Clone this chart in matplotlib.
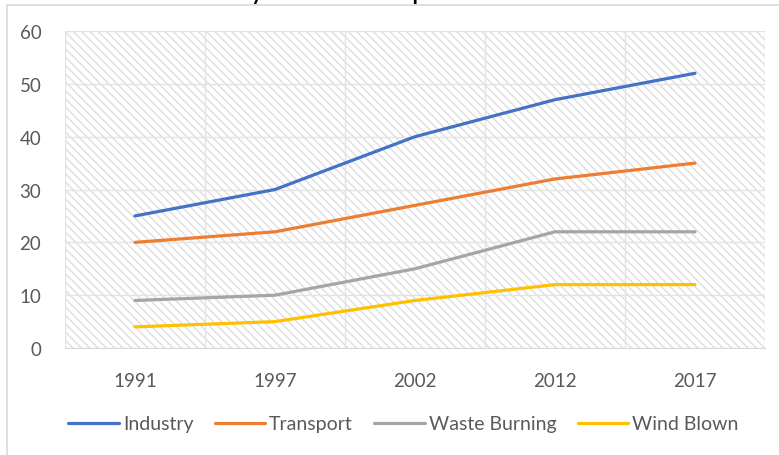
import matplotlib
matplotlib.use('Agg')
import matplotlib.pyplot as plt
from matplotlib.patches import Rectangle
from matplotlib.lines import Line2D

# chart data
years = ['1991', '1997', '2002', '2012', '2017']
industry = [25, 30, 40, 47, 52]
transport = [20, 22, 27, 32, 35]
waste_burning = [9, 10, 15, 22, 22]
wind_blown = [4, 5, 9, 12, 12]
series_names = ['Industry', 'Transport', 'Waste Burning', 'Wind Blown']
series_colors = ['#4472C4', '#ED7D31', '#A5A5A5', '#FFC000']
y_ticks = [0, 10, 20, 30, 40, 50, 60]

plt.rcParams['font.family'] = ['Lato', 'DejaVu Sans']
plt.rcParams['hatch.linewidth'] = 1.0

fig = plt.figure(figsize=(7.79, 4.56), dpi=100)
ax = fig.add_axes([0.0834, 0.2346, 0.8986, 0.6952])

# hatched plot area
bg = Rectangle((0, 0), 1, 1, transform=ax.transAxes, fill=False,
               hatch='\\\\\\\\', edgecolor='#dedede', linewidth=0, zorder=0)
ax.add_patch(bg)

x = list(range(len(years)))
for vals, name, col in zip([industry, transport, waste_burning, wind_blown],
                           series_names, series_colors):
    ax.plot(x, vals, color=col, lw=2.3, label=name, solid_capstyle='round', zorder=3)

ax.set_xlim(-0.5, len(years) - 0.5)
ax.set_ylim(0, 60)
ax.set_yticks(y_ticks)
ax.set_xticks(x)
ax.set_xticklabels(years)
ax.set_xticks([i - 0.5 for i in range(len(years) + 1)] + x, minor=True)
ax.grid(True, which='minor', axis='x', color='#e3e3e3', lw=1, zorder=1)
ax.grid(True, which='major', axis='y', color='#e3e3e3', lw=1, zorder=1)
ax.tick_params(which='both', length=0)
ax.tick_params(axis='y', pad=17, labelsize=13.5, labelcolor='#595959')
ax.tick_params(axis='x', pad=17, labelsize=13.5, labelcolor='#595959')
for s in ['top', 'right', 'left']:
    ax.spines[s].set_visible(False)
ax.spines['bottom'].set_color('#d9d9d9')
ax.set_facecolor('white')

fig.legend(loc='center', bbox_to_anchor=(0.518, 0.068), ncol=4, frameon=False,
           fontsize=14, handlelength=2.6, handletextpad=0.2, columnspacing=1.1,
           labelcolor='#595959')

# chart border and title (cut off at the top edge, as in the source image)
fig.add_artist(Line2D([7 / 779, 7 / 779, 1], [0, 1 - 6 / 456, 1 - 6 / 456],
                      transform=fig.transFigure, color='#d9d9d9', lw=1.2))
fig.text(0.261, 1.0, 'Yearly Emission Share per Source', ha='left', va='baseline',
         fontsize=15, fontweight='bold', color='black')

fig.savefig('out.png', dpi=100)
